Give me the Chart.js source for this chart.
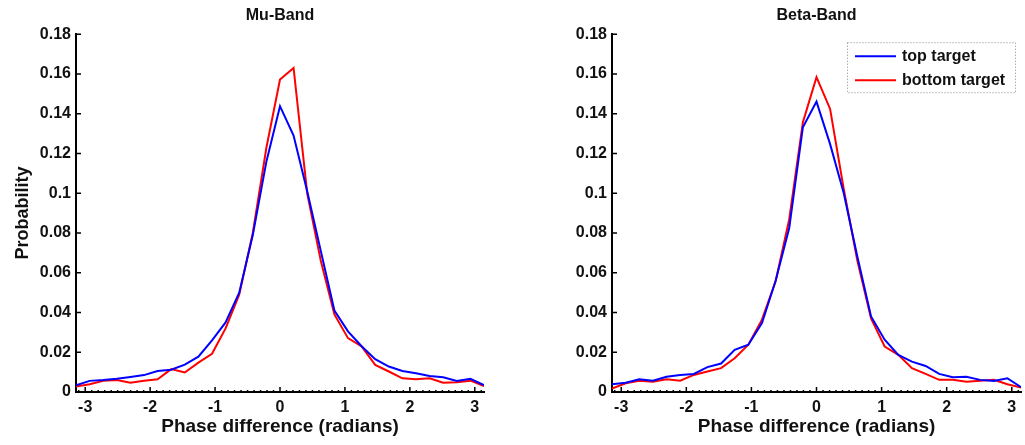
<!DOCTYPE html>
<html>
<head>
<meta charset="utf-8">
<title>Phase difference</title>
<script src="https://cdn.jsdelivr.net/npm/chart.js@4.4.0/dist/chart.umd.min.js"></script>
<style>
    html, body { margin: 0; padding: 0; background: #fff; }
    #wrap { position: relative; width: 1025px; height: 445px; }
    .panel { position: absolute; top: 0; height: 445px; }
</style>
</head>
<body>
<div id="wrap">
    <div class="panel" style="left:0;width:512px"><canvas id="ChartMu"></canvas></div>
    <div class="panel" style="left:512px;width:513px"><canvas id="ChartBeta"></canvas></div>
</div>
<script>
// Ejes (radianes)
const phase = [-3.142, -2.932, -2.723, -2.513, -2.304, -2.094, -1.885, -1.676, -1.466, -1.257, -1.047,
    -0.838, -0.628, -0.419, -0.209, 0, 0.209, 0.419, 0.628, 0.838, 1.047,
    1.257, 1.466, 1.676, 1.885, 2.094, 2.304, 2.513, 2.723, 2.932, 3.142];
const xMin = -3.1416;
const xMax = 3.1416;
const xTicks = [-3, -2, -1, 0, 1, 2, 3];
const yTicks = [0, 0.02, 0.04, 0.06, 0.08, 0.1, 0.12, 0.14, 0.16, 0.18];
const seriesNames = ['top target', 'bottom target'];

// Mu-Band
const muTop = [0.0034, 0.0056, 0.0060, 0.0067, 0.0076, 0.0085, 0.0106, 0.0112, 0.0138, 0.0178, 0.026,
    0.035, 0.050, 0.079, 0.116, 0.1438, 0.129, 0.101, 0.071, 0.041, 0.0305,
    0.023, 0.0165, 0.0128, 0.0106, 0.0094, 0.0081, 0.0074, 0.0056, 0.0066, 0.0035];
const muBottom = [0.0027, 0.0039, 0.0056, 0.0060, 0.0047, 0.0057, 0.0064, 0.0115, 0.0098, 0.0148, 0.0192,
    0.032, 0.049, 0.080, 0.123, 0.1572, 0.163, 0.100, 0.066, 0.039, 0.0271,
    0.0229, 0.0136, 0.0103, 0.0069, 0.0064, 0.0069, 0.0047, 0.0049, 0.0057, 0.0030];

// Beta-Band
const betaTop = [0.0039, 0.0047, 0.0064, 0.0057, 0.0077, 0.0086, 0.0091, 0.0125, 0.0143, 0.0212, 0.0238,
    0.0347, 0.056, 0.0825, 0.1332, 0.1461, 0.1247, 0.100, 0.068, 0.038, 0.0263,
    0.0187, 0.0153, 0.0131, 0.0091, 0.0074, 0.0077, 0.0061, 0.0056, 0.0069, 0.0024];
const betaBottom = [0.0017, 0.0044, 0.0057, 0.0052, 0.0064, 0.0057, 0.0086, 0.0103, 0.0120, 0.0170, 0.0238,
    0.0364, 0.0557, 0.0869, 0.1357, 0.1584, 0.1424, 0.102, 0.066, 0.037, 0.0229,
    0.0187, 0.0120, 0.0091, 0.0061, 0.0061, 0.0051, 0.0057, 0.0061, 0.0039, 0.0022];

Chart.defaults.font.family = "'Liberation Sans', Arial, sans-serif";
Chart.defaults.color = '#111';

function toPoints(values) {
    return phase.map((x, i) => ({ x: x, y: values[i] }));
}

// Marcas hacia adentro (estilo MATLAB)
const inwardTicks = {
    id: 'inwardTicks',
    afterDatasetsDraw(chart) {
        const { ctx, chartArea, scales: { x, y } } = chart;
        ctx.save();
        ctx.strokeStyle = '#000';
        ctx.lineWidth = 1.5;
        ctx.beginPath();
        for (let v = -31; v <= 31; v++) {
            const px = x.getPixelForValue(v / 10);
            ctx.moveTo(px, chartArea.bottom);
            ctx.lineTo(px, chartArea.bottom - 2);
        }
        xTicks.forEach(v => {
            const px = x.getPixelForValue(v);
            ctx.moveTo(px, chartArea.bottom);
            ctx.lineTo(px, chartArea.bottom - 5);
        });
        yTicks.forEach(v => {
            const py = y.getPixelForValue(v);
            ctx.moveTo(chartArea.left, py);
            ctx.lineTo(chartArea.left + 5, py);
        });
        ctx.stroke();
        ctx.restore();
    }
};

// Leyenda dentro del gráfico con borde punteado
const boxLegend = {
    id: 'boxLegend',
    afterDraw(chart, args, opts) {
        if (!opts.show) return;
        const { ctx, chartArea } = chart;
        const w = 168, h = 50;
        const left = chartArea.right - 6 - w;
        const top = chartArea.top + 8;
        ctx.save();
        ctx.fillStyle = '#fff';
        ctx.fillRect(left, top, w, h);
        ctx.strokeStyle = '#888';
        ctx.lineWidth = 1;
        ctx.setLineDash([1, 2]);
        ctx.strokeRect(left + 0.5, top + 0.5, w, h);
        ctx.setLineDash([]);
        ctx.font = "bold 16px 'Liberation Sans', Arial, sans-serif";
        ctx.textBaseline = 'middle';
        chart.data.datasets.forEach((ds, i) => {
            const yy = top + 14 + i * 24;
            ctx.strokeStyle = ds.borderColor;
            ctx.lineWidth = 2;
            ctx.beginPath();
            ctx.moveTo(left + 8, yy);
            ctx.lineTo(left + 49, yy);
            ctx.stroke();
            ctx.fillStyle = '#111';
            ctx.fillText(ds.label, left + 55, yy);
        });
        ctx.restore();
    }
};

function makeConfig(title, top, bottom, yTitle, yWidth, padRight, showLegend) {
    return {
        type: 'line',
        data: {
            datasets: [
                { label: seriesNames[0], data: toPoints(top), borderColor: '#0000ff', borderWidth: 2, pointRadius: 0, tension: 0 },
                { label: seriesNames[1], data: toPoints(bottom), borderColor: '#ff0000', borderWidth: 2, pointRadius: 0, tension: 0 }
            ]
        },
        options: {
            responsive: true,
            maintainAspectRatio: false,
            animation: false,
            layout: { padding: { top: 0, right: padRight, bottom: 0, left: 0 } },
            plugins: {
                legend: { display: false },
                tooltip: { enabled: false },
                title: {
                    display: true,
                    text: title,
                    fullSize: false,
                    color: '#111',
                    font: { size: 16, weight: 'bold' },
                    padding: { top: 6, bottom: 9 }
                },
                boxLegend: { show: showLegend }
            },
            scales: {
                x: {
                    type: 'linear',
                    min: xMin,
                    max: xMax,
                    afterBuildTicks: axis => { axis.ticks = xTicks.map(v => ({ value: v })); },
                    afterFit: axis => { axis.height = 53; },
                    ticks: { font: { size: 16, weight: 'bold' }, padding: 6, maxRotation: 0, callback: v => String(v) },
                    grid: { display: false, drawTicks: false },
                    border: { display: true, color: '#000', width: 2 },
                    title: {
                        display: true,
                        text: 'Phase difference (radians)',
                        color: '#111',
                        font: { size: 19, weight: 'bold' },
                        padding: { top: 0, bottom: 7 }
                    }
                },
                y: {
                    min: 0,
                    max: 0.18,
                    afterBuildTicks: axis => { axis.ticks = yTicks.map(v => ({ value: v })); },
                    afterFit: axis => { axis.width = yWidth; },
                    ticks: { font: { size: 16, weight: 'bold' }, padding: 5, callback: v => String(Number(v.toFixed(2))) },
                    grid: { display: false, drawTicks: false },
                    border: { display: true, color: '#000', width: 2 },
                    title: {
                        display: yTitle !== '',
                        text: yTitle,
                        color: '#111',
                        font: { size: 18, weight: 'bold' },
                        padding: { top: 12, bottom: 0 }
                    }
                }
            }
        },
        plugins: [inwardTicks, boxLegend]
    };
}

const chartMu = new Chart(
    document.getElementById('ChartMu'),
    makeConfig('Mu-Band', muTop, muBottom, 'Probability', 76, 28, false)
);

const chartBeta = new Chart(
    document.getElementById('ChartBeta'),
    makeConfig('Beta-Band', betaTop, betaBottom, '', 100, 4, true)
);
</script>
</body>
</html>
